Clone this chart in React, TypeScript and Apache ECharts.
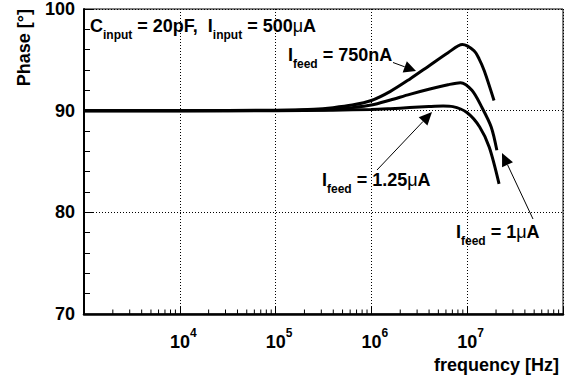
import React, { useEffect, useRef } from 'react';
import * as echarts from 'echarts';

const xTicks = [1e3, 1e4, 1e5, 1e6, 1e7, 1e8];
const yTicks = [70, 80, 90, 100];

// I_feed = 750nA
const freq750 = [1e3, 1e4, 1e5, 2.51e5, 3.98e5, 6.31e5, 1e6, 1.58e6, 2.51e6, 3.98e6, 6.31e6, 8.91e6, 1.175e7, 1.33e7, 1.51e7, 1.905e7];
const phase750 = [90.0, 90.0, 90.05, 90.15, 90.3, 90.55, 91.0, 91.9, 93.1, 94.4, 95.7, 96.5, 95.9, 95.1, 93.9, 91.0];

// I_feed = 1uA
const freq1u = [1e3, 1e4, 1e5, 2.51e5, 3.98e5, 6.31e5, 1e6, 1.58e6, 2.51e6, 3.98e6, 6.31e6, 8.51e6, 1.12e7, 1.41e7, 1.78e7, 2.04e7];
const phase1u = [90.0, 90.0, 90.02, 90.08, 90.15, 90.3, 90.55, 91.05, 91.6, 92.1, 92.55, 92.75, 92.0, 90.4, 88.4, 86.1];

// I_feed = 1.25uA
const freq125 = [1e3, 1e4, 1e5, 3.98e5, 1e6, 1.58e6, 2.51e6, 3.98e6, 5.62e6, 7.08e6, 1e7, 1.35e7, 1.7e7, 2.15e7];
const phase125 = [90.0, 90.0, 90.0, 90.05, 90.12, 90.2, 90.3, 90.4, 90.45, 90.4, 89.8, 88.4, 86.4, 82.8];

const FONT = '"Liberation Sans", Arial, Helvetica, sans-serif';

const richParts = {
  m: { fontSize: 18, fontWeight: 'bold', fontFamily: FONT, lineHeight: 30, fill: '#000' },
  s: { fontSize: 12, fontWeight: 'bold', fontFamily: FONT, lineHeight: 12, verticalAlign: 'bottom', fill: '#000' },
  u: { fontSize: 18, fontWeight: 'normal', fontFamily: FONT, lineHeight: 30, fill: '#000' },
};

function annText(x: number, y: number, text: string) {
  return {
    type: 'text',
    x,
    y,
    silent: true,
    style: {
      text,
      rich: richParts,
      fill: '#000',
      align: 'left',
      verticalAlign: 'middle',
      fontFamily: FONT,
      fontWeight: 'bold',
      fontSize: 18,
    },
  };
}

function arrow(x1: number, y1: number, x2: number, y2: number, len = 12, hw = 6) {
  const dx = x2 - x1;
  const dy = y2 - y1;
  const d = Math.sqrt(dx * dx + dy * dy);
  const ux = dx / d;
  const uy = dy / d;
  const nx = -uy;
  const ny = ux;
  const bx = x2 - ux * len;
  const by = y2 - uy * len;
  return [
    {
      type: 'line',
      silent: true,
      shape: { x1, y1, x2: bx, y2: by },
      style: { stroke: '#000', lineWidth: 1 },
    },
    {
      type: 'polygon',
      silent: true,
      shape: {
        points: [
          [x2, y2],
          [bx + nx * hw, by + ny * hw],
          [bx - nx * hw, by - ny * hw],
        ],
      },
      style: { fill: '#000' },
    },
  ];
}

export default function App() {
  const ref = useRef<HTMLDivElement>(null);
  useEffect(() => {
    const chart = echarts.init(ref.current!, null, { renderer: 'svg' });

    const minorTicks: number[][] = [];
    for (let e = 3; e < 8; e++) {
      for (let m = 2; m <= 9; m++) minorTicks.push([m * Math.pow(10, e), yTicks[0]]);
    }

    const lineSeries = (freq: number[], phase: number[]) => ({
      type: 'line',
      data: freq.map((f, i) => [f, phase[i]]),
      symbol: 'none',
      showSymbol: false,
      smooth: 0.3,
      lineStyle: { color: '#000', width: 3 },
      z: 4,
      silent: true,
    });

    const minExp = Math.round(Math.log10(xTicks[0]));
    const maxExp = Math.round(Math.log10(xTicks[xTicks.length - 1]));

    const option: any = {
      animation: false,
      backgroundColor: '#fff',
      grid: {
        left: 84,
        right: 5,
        top: 8,
        bottom: 66,
        show: true,
        borderColor: '#000',
        borderWidth: 1,
        backgroundColor: 'transparent',
      },
      xAxis: {
        type: 'log',
        logBase: 10,
        min: xTicks[0],
        max: xTicks[xTicks.length - 1],
        axisLine: { show: true, lineStyle: { color: '#000', width: 2.5 } },
        axisTick: { show: true, inside: true, length: 8, lineStyle: { color: '#000', width: 1 } },
        minorTick: { show: false },
        splitLine: { show: true, lineStyle: { color: '#000', type: [1, 2], width: 1 } },
        axisLabel: {
          margin: 13,
          padding: [0, 0, 0, 7],
          formatter: (v: number) => {
            const e = Math.round(Math.log10(v));
            if (e <= minExp || e >= maxExp) return '';
            return `{b|10}{e|${e}}`;
          },
          rich: {
            b: { fontSize: 18, fontWeight: 'bold', fontFamily: FONT, color: '#000', lineHeight: 30 },
            e: { fontSize: 12, fontWeight: 'bold', fontFamily: FONT, color: '#000', lineHeight: 12, verticalAlign: 'top' },
          },
        },
      },
      yAxis: {
        type: 'value',
        min: yTicks[0],
        max: yTicks[yTicks.length - 1],
        interval: 10,
        axisLine: { show: true, lineStyle: { color: '#000', width: 2 } },
        axisTick: { show: true, inside: true, length: 10, lineStyle: { color: '#000', width: 1 } },
        minorTick: { show: true, splitNumber: 5, length: 6, lineStyle: { color: '#000', width: 1 } },
        splitLine: { show: true, lineStyle: { color: '#000', type: [1, 2], width: 1 } },
        axisLabel: {
          color: '#000',
          fontSize: 18,
          fontWeight: 'bold',
          fontFamily: FONT,
          margin: 9,
        },
      },
      series: [
        lineSeries(freq750, phase750),
        lineSeries(freq1u, phase1u),
        lineSeries(freq125, phase125),
        {
          type: 'custom',
          silent: true,
          clip: false,
          z: 5,
          data: minorTicks,
          renderItem: (params: any, api: any) => {
            const p = api.coord([api.value(0), api.value(1)]);
            return {
              type: 'line',
              shape: { x1: p[0], y1: p[1], x2: p[0], y2: p[1] - 4.5 },
              style: { stroke: '#000', lineWidth: 1 },
            };
          },
        },
      ],
      graphic: [
        {
          type: 'text',
          x: 24,
          y: 9,
          rotation: Math.PI / 2,
          silent: true,
          style: {
            text: 'Phase [°]',
            fill: '#000',
            align: 'right',
            verticalAlign: 'middle',
            fontSize: 18,
            fontWeight: 'bold',
            fontFamily: FONT,
          },
        },
        {
          type: 'text',
          x: 559,
          y: 365,
          silent: true,
          style: {
            text: 'frequency [Hz]',
            fill: '#000',
            align: 'right',
            verticalAlign: 'middle',
            fontSize: 18,
            fontWeight: 'bold',
            fontFamily: FONT,
          },
        },
        annText(90, 26, '{m|C}{s|input}{m| = 20pF,  I}{s|input}{m| = 500}{u|μ}{m|A}'),
        annText(288, 55, '{m|I}{s|feed}{m| = 750nA}'),
        annText(322, 180, '{m|I}{s|feed}{m| = 1.25}{u|μ}{m|A}'),
        annText(456, 232, '{m|I}{s|feed}{m| = 1}{u|μ}{m|A}'),
        ...arrow(393, 62.5, 416, 71),
        ...arrow(377, 170, 432, 112, 13, 6),
        ...arrow(533, 219, 502, 153, 13, 6),
      ],
    };

    chart.setOption(option);
    return () => chart.dispose();
  }, []);

  return (
    <div
      ref={ref}
      style={{ position: 'fixed', left: 0, top: 0, width: 568, height: 380, background: '#fff' }}
    />
  );
}
